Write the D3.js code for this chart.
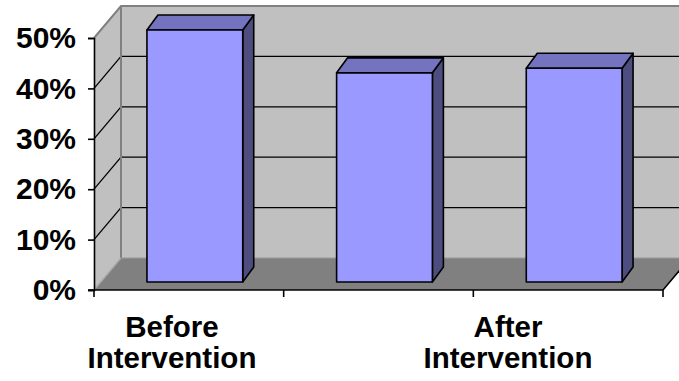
<!DOCTYPE html>
<html>
<head>
<meta charset="utf-8">
<script src="https://cdn.jsdelivr.net/npm/d3@7"></script>
<style>
  html, body { margin: 0; padding: 0; background: #fff; }
  svg { display: block; }
  text { font-family: "Liberation Sans", Arial, sans-serif; font-weight: bold; fill: #000; }
</style>
</head>
<body>
<svg id="chart" width="679" height="381"></svg>
<script>
// Share of cases, before / during / after the intervention
const categories = ["Before Intervention", "", "After Intervention"];
const values = [0.50, 0.415, 0.424];
const yTicks = [0, 0.1, 0.2, 0.3, 0.4, 0.5];
const gridValues = [0.1, 0.2, 0.3, 0.4];

const svg = d3.select("#chart");

// front plane of the 3D box
const x = d3.scaleBand().domain(categories).range([94, 663]).padding(0);
const y = d3.scaleLinear().domain([0, 0.5]).range([290, 38]);
// oblique depth of the floor / wall box
const depth = { dx: 27, dy: -32 };
// front and back face offsets of the bars inside the box
const barFront = { dx: 6, dy: -8 };
const barBack = { dx: 17, dy: -23 };
const barRatio = 0.505;

const x0 = x.range()[0], x1 = x.range()[1];
const yBase = y(0), yTop = y(yTicks[yTicks.length - 1]);
const pts = a => a.map(p => p.join(",")).join(" ");

// back wall
svg.append("rect")
  .attr("x", x0 + depth.dx).attr("y", yTop + depth.dy)
  .attr("width", x1 - x0 + 10).attr("height", yBase - yTop)
  .attr("fill", "#C0C0C0");

// side wall
svg.append("polygon")
  .attr("points", pts([[x0, yTop], [x0 + depth.dx, yTop + depth.dy],
                       [x0 + depth.dx, yBase + depth.dy], [x0, yBase]]))
  .attr("fill", "#C0C0C0");

// floor
svg.append("polygon")
  .attr("points", pts([[x0, yBase], [x1, yBase],
                       [x1 + depth.dx, yBase + depth.dy], [x0 + depth.dx, yBase + depth.dy]]))
  .attr("fill", "#808080");

// gridlines on back and side walls
const grid = svg.append("g").attr("stroke", "#000").attr("stroke-width", 1.3);
gridValues.forEach(v => {
  grid.append("line")
    .attr("x1", x0 + depth.dx).attr("x2", x1 + depth.dx + 10)
    .attr("y1", y(v) + depth.dy).attr("y2", y(v) + depth.dy);
  grid.append("line")
    .attr("x1", x0).attr("y1", y(v))
    .attr("x2", x0 + depth.dx).attr("y2", y(v) + depth.dy);
});

// wall borders
const border = svg.append("g").attr("stroke", "#808080").attr("stroke-width", 2).attr("fill", "none");
border.append("polyline")
  .attr("points", pts([[x0, yTop], [x0 + depth.dx, yTop + depth.dy], [x1 + depth.dx + 10, yTop + depth.dy]]));
border.append("line")
  .attr("x1", x0 + depth.dx).attr("x2", x0 + depth.dx)
  .attr("y1", yTop + depth.dy).attr("y2", yBase + depth.dy);
svg.append("line")
  .attr("x1", x0 + depth.dx).attr("x2", x1 + depth.dx + 10)
  .attr("y1", yBase + depth.dy).attr("y2", yBase + depth.dy)
  .attr("stroke", "#9a9a9a").attr("stroke-width", 1);
svg.append("line")
  .attr("x1", x0).attr("y1", yBase)
  .attr("x2", x0 + depth.dx).attr("y2", yBase + depth.dy)
  .attr("stroke", "#a8a8a8").attr("stroke-width", 1.5);
svg.append("line")
  .attr("x1", x1).attr("y1", yBase)
  .attr("x2", x1 + depth.dx).attr("y2", yBase + depth.dy)
  .attr("stroke", "#000").attr("stroke-width", 1.5);

// bars
const bw = x.bandwidth() * barRatio;
const bars = svg.append("g")
  .attr("stroke", "#000").attr("stroke-width", 1.6).attr("stroke-linejoin", "round");
categories.forEach((c, i) => {
  const left = x(c) + (x.bandwidth() - bw) / 2;
  const right = left + bw;
  const top = y(values[i]);
  const F = (px, py) => [px + barFront.dx, py + barFront.dy];
  const B = (px, py) => [px + barBack.dx, py + barBack.dy];
  const g = bars.append("g");
  g.append("polygon").attr("fill", "#4D4D80")
    .attr("points", pts([F(right, top), B(right, top), B(right, yBase), F(right, yBase)]));
  g.append("polygon").attr("fill", "#7373BF")
    .attr("points", pts([F(left, top), B(left, top), B(right, top), F(right, top)]));
  g.append("polygon").attr("fill", "#9999FF")
    .attr("points", pts([F(left, top), F(right, top), F(right, yBase), F(left, yBase)]));
});

// value axis
const yAxis = svg.append("g")
  .attr("transform", `translate(${x0},0)`)
  .call(d3.axisLeft(y).tickValues(yTicks).tickFormat(d3.format(".0%"))
        .tickSize(6).tickPadding(12));
yAxis.select(".domain").attr("stroke", "#000").attr("stroke-width", 1.6);
yAxis.selectAll(".tick line").attr("stroke", "#000").attr("stroke-width", 1.6);
yAxis.selectAll(".tick text")
  .style("font-size", "30px").style("font-family", "'Liberation Sans', Arial, sans-serif")
  .style("font-weight", "bold").attr("fill", "#000");

// category axis
const xAxis = svg.append("g").attr("stroke", "#000").attr("stroke-width", 1.6);
xAxis.append("line").attr("x1", x0 - 6).attr("x2", x1).attr("y1", yBase).attr("y2", yBase);
d3.range(categories.length + 1).forEach(i => {
  const tx = x0 + i * x.step();
  xAxis.append("line").attr("x1", tx).attr("x2", tx).attr("y1", yBase).attr("y2", yBase + 7);
});

// category labels, two lines each
const labelX = d3.scalePoint().domain(categories).range([172, 508]);
categories.forEach(c => {
  if (!c) return;
  const t = svg.append("text")
    .attr("x", labelX(c)).attr("y", 337)
    .attr("text-anchor", "middle")
    .style("font-size", "29.5px");
  c.split(" ").forEach((w, j) => {
    t.append("tspan").attr("x", labelX(c)).attr("dy", j ? 30.5 : 0).text(w);
  });
});
</script>
</body>
</html>
